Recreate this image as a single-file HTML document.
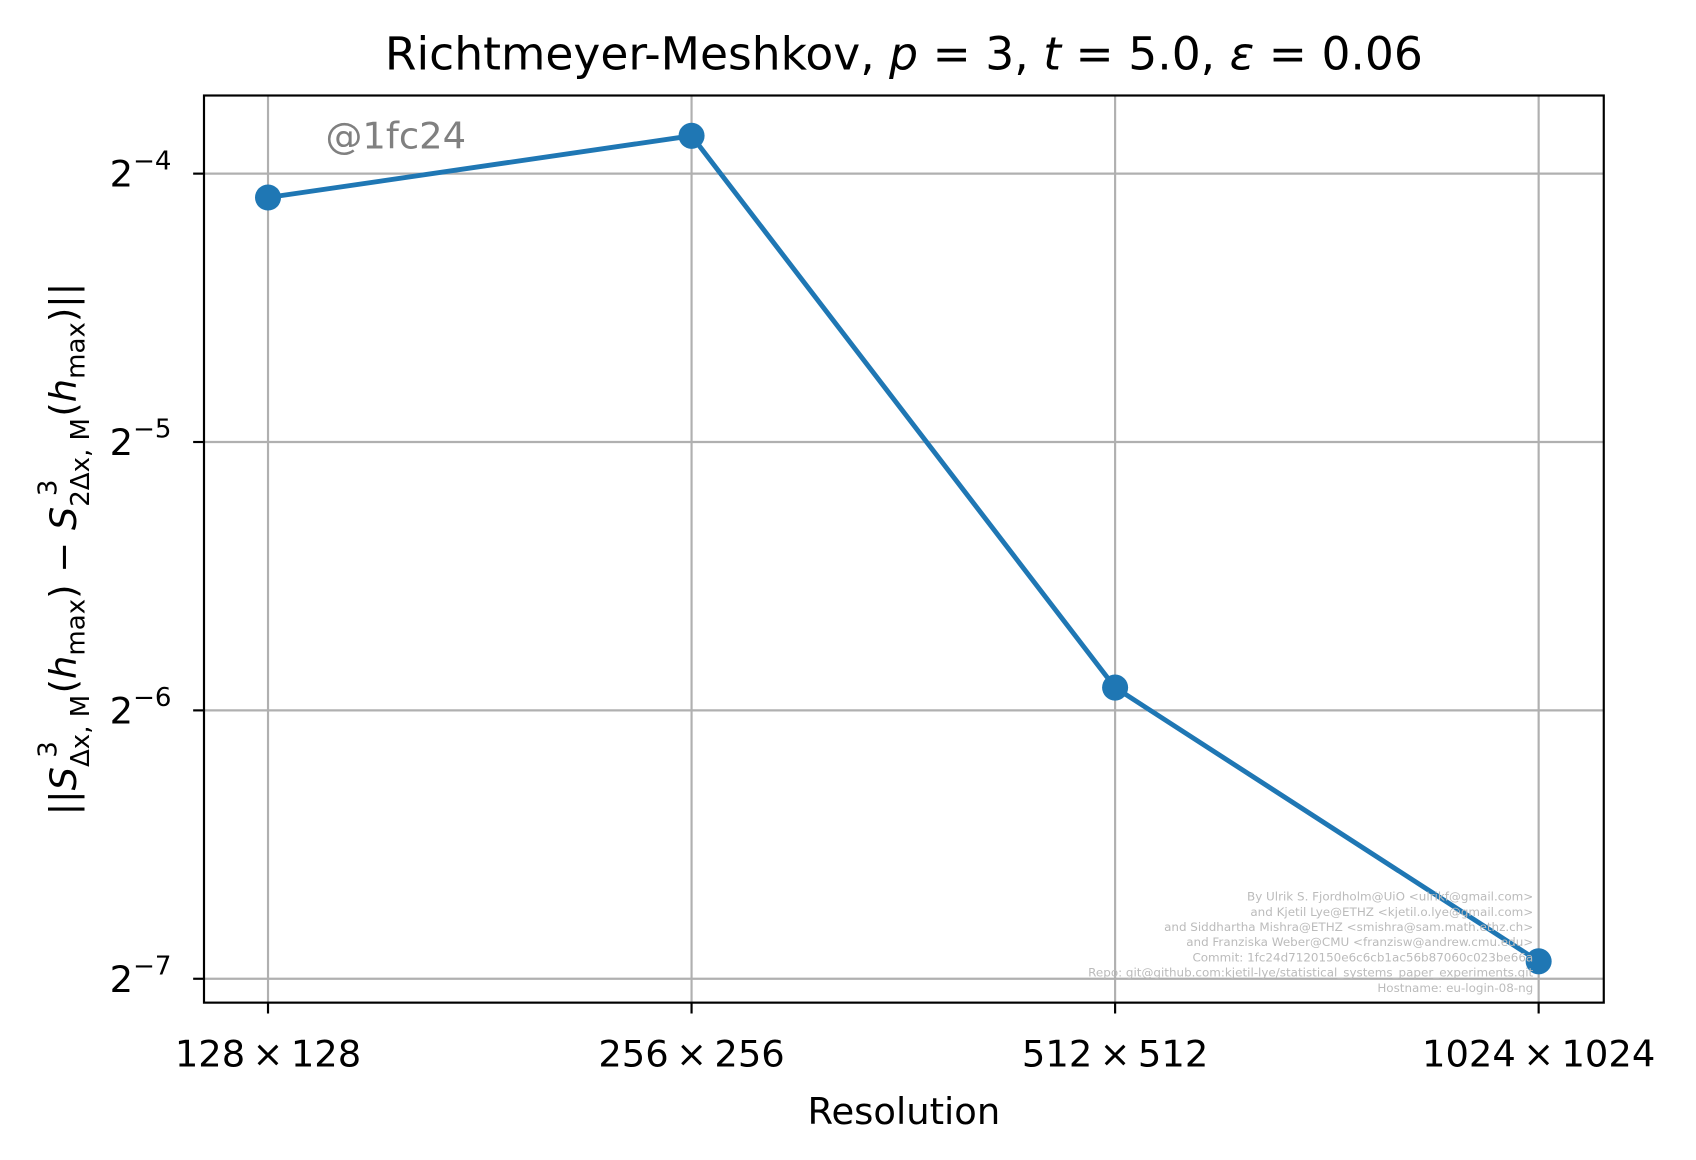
<!DOCTYPE html>
<html><head><meta charset="utf-8"><style>
body{margin:0;background:#fff}
svg{display:block}
svg text{font-family:"DejaVu Sans","Liberation Sans",sans-serif}
</style></head><body>
<svg width="1696" height="1160" viewBox="0 0 1563 1069" xmlns="http://www.w3.org/2000/svg">
<rect width="1563" height="1069" fill="#fff"/>
<g id="grid"></g>
<g id="marks"></g>
<rect x="188" y="88" width="1290" height="836" fill="none" stroke="#000" stroke-width="2"/>
<g id="ticks"></g>
<text x="833" y="64" font-size="42" text-anchor="middle">Richtmeyer-Meshkov, <tspan font-style="italic">p</tspan> = 3, <tspan font-style="italic">t</tspan> = 5.0, <tspan font-style="italic">ε</tspan> = 0.06</text>
<text x="833" y="1036" font-size="34" text-anchor="middle">Resolution</text>
<text transform="translate(70,506) rotate(-90)" font-size="34" text-anchor="middle">||<tspan font-style="italic">S</tspan><tspan font-size="24" dy="12">Δx, M</tspan><tspan font-size="24" dx="-58" dy="-30">3</tspan><tspan dx="44" dy="18">(</tspan><tspan font-style="italic">h</tspan><tspan font-size="24" dy="8">max</tspan><tspan dy="-8">) − </tspan><tspan font-style="italic">S</tspan><tspan font-size="24" dy="12">2Δx, M</tspan><tspan font-size="24" dx="-72" dy="-30">3</tspan><tspan dx="58" dy="18">(</tspan><tspan font-style="italic">h</tspan><tspan font-size="24" dy="8">max</tspan><tspan dy="-8">)||</tspan></text>
<text x="300" y="137" font-size="34" fill="#808080">@1fc24</text>
<g font-size="11" fill="#bbb" text-anchor="end">
<text x="1413" y="830">By Ulrik S. Fjordholm@UiO &lt;ulrikf@gmail.com&gt;</text>
<text x="1413" y="844">and Kjetil Lye@ETHZ &lt;kjetil.o.lye@gmail.com&gt;</text>
<text x="1413" y="858">and Siddhartha Mishra@ETHZ &lt;smishra@sam.math.ethz.ch&gt;</text>
<text x="1413" y="872">and Franziska Weber@CMU &lt;franzisw@andrew.cmu.edu&gt;</text>
<text x="1413" y="886">Commit: 1fc24d7120150e6c6cb1ac56b87060c023be66a</text>
<text x="1413" y="900">Repo: git@github.com:kjetil-lye/statistical_systems_paper_experiments.git</text>
<text x="1413" y="914">Hostname: eu-login-08-ng</text>
</g>
</svg>
<script>
const categories=["128","256","512","1024"];
const values=[Math.pow(2,-4.089),Math.pow(2,-3.859),Math.pow(2,-5.915),Math.pow(2,-6.935)];
const yTickExps=[-4,-5,-6,-7];
const NS="http://www.w3.org/2000/svg";
const xs=i=>247+i*390.33;
const ys=v=>160-(Math.log2(v)+4)*247.33;
const grid=document.getElementById('grid'),ticks=document.getElementById('ticks'),marks=document.getElementById('marks');
function mk(tag,at,p){const e=document.createElementNS(NS,tag);for(const k in at)e.setAttribute(k,at[k]);p.appendChild(e);return e;}
categories.forEach((c,i)=>{const x=xs(i);
 const g=mk('line',{x1:x,x2:x,y1:88,y2:924,stroke:'#b0b0b0','stroke-width':2},grid);
 
 mk('line',{x1:x,x2:x,y1:924,y2:934,stroke:'#000','stroke-width':2},ticks);
 const t=mk('text',{x:x,y:983,'font-size':34,'text-anchor':'middle'},ticks);
 t.textContent=c+"\u2009×\u2009"+c;
 });
yTickExps.forEach(e=>{const y=ys(Math.pow(2,e));
 const g=mk('line',{x1:188,x2:1478,y1:y,y2:y,stroke:'#b0b0b0','stroke-width':2},grid);
 
 mk('line',{x1:178,x2:188,y1:y,y2:y,stroke:'#000','stroke-width':2},ticks);
 const t=mk('text',{x:158,y:y+12,'font-size':34,'text-anchor':'end'},ticks);
 t.innerHTML='2<tspan font-size="24" dy="-16">−'+(-e)+'</tspan>';
 });
const pl=mk('polyline',{points:values.map((v,i)=>xs(i)+','+ys(v)).join(' '),fill:'none',stroke:'#1f77b4','stroke-width':4.5},marks);

values.forEach((v,i)=>{const c=mk('circle',{cx:xs(i),cy:ys(v),r:12,fill:'#1f77b4'},marks);
 });
</script>
</body></html>
